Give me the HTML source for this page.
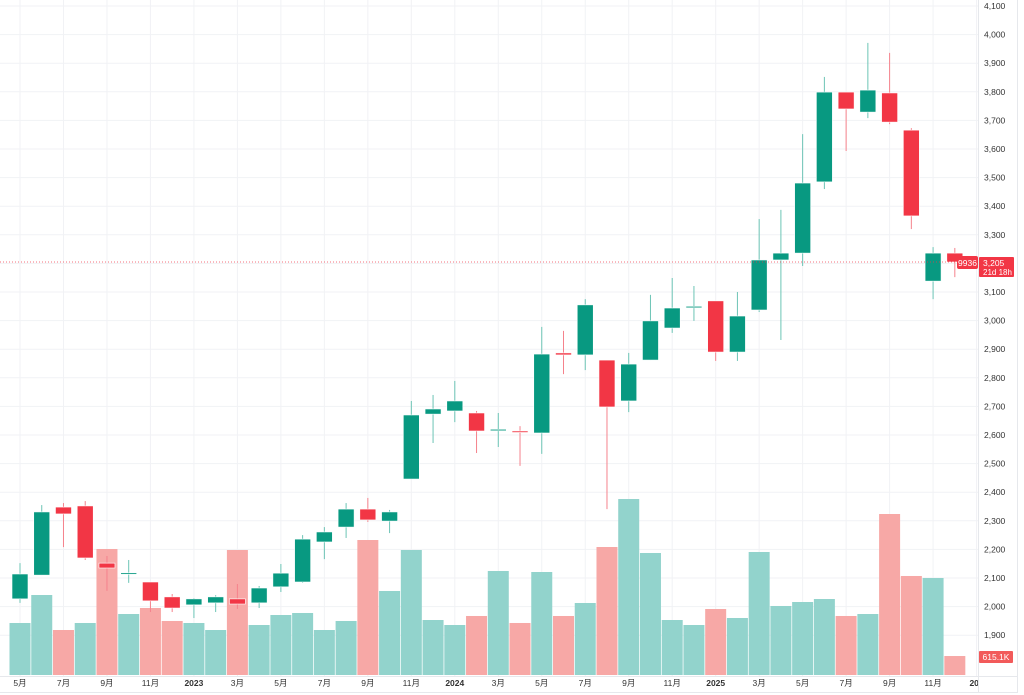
<!DOCTYPE html>
<html><head><meta charset="utf-8"><style>
html,body{margin:0;padding:0;background:#fff;}
svg{display:block;font-family:"Liberation Sans","Noto Sans CJK SC",sans-serif;}
</style></head><body>
<svg id="chart" width="1024" height="695" viewBox="0 0 1024 695" xmlns="http://www.w3.org/2000/svg"></svg>
<script>
const opens  = [2027,2110,2348,2352,2152,2115,2086,2034,2006,2013,2027,2013,2069,2086,2226,2278,2341,2299,2446,2673,2684,2677,2617,2614,2607,2887,2880,2862,2719,2862,2974,3046,3069,2890,3037,3212,3236,3485,3799,3729,3796,3666,3138,3236];
const highs  = [2152,2355,2362,2369,2177,2163,2086,2044,2030,2040,2079,2072,2149,2250,2278,2362,2380,2338,2719,2740,2789,2684,2677,2631,2978,2964,3075,2862,2887,3090,3149,3121,3069,3100,3355,3387,3652,3852,3799,3971,3936,3673,3257,3254];
const lows   = [2013,2110,2208,2163,2055,2083,1981,1981,1960,1981,1992,1995,2051,2083,2166,2240,2296,2257,2446,2572,2645,2537,2558,2492,2534,2813,2827,2341,2680,2862,2957,2999,2859,2859,3030,2932,3191,3460,3593,3708,3687,3320,3075,3152];
const closes = [2114,2331,2324,2170,2135,2118,2020,1995,2027,2034,2009,2065,2117,2236,2261,2341,2303,2331,2670,2691,2719,2614,2620,2610,2883,2880,3055,2698,2848,2999,3044,3050,2890,3016,3212,3236,3481,3799,3740,3806,3694,3366,3236,3205];
const volumes= [1685,2592,1458,1685,4082,1976,2171,1750,1685,1458,4050,1620,1944,2009,1458,1750,4374,2722,4050,1782,1620,1912,3370,1685,3337,1912,2333,4147,5702,3953,1782,1620,2138,1847,3985,2236,2365,2462,1912,1976,5216,3208,3143,615];
const volUp  = [1,1,0,1,0,1,0,0,1,1,0,1,1,1,1,1,0,1,1,1,1,0,1,0,1,0,1,0,1,1,1,1,0,1,1,1,1,1,0,1,0,0,1,0];
const xLabels = ["5月","7月","9月","11月","2023","3月","5月","7月","9月","11月","2024","3月","5月","7月","9月","11月","2025","3月","5月","7月","9月","11月","202"];
const yTicks = [4100,4000,3900,3800,3700,3600,3500,3400,3300,3200,3100,3000,2900,2800,2700,2600,2500,2400,2300,2200,2100,2000,1900];
const lastPrice = 3205;

const svg = document.getElementById('chart');
const NS = 'http://www.w3.org/2000/svg';
function mk(tag, attrs, parent){const e=document.createElementNS(NS,tag);for(const k in attrs)e.setAttribute(k,attrs[k]);(parent||svg).appendChild(e);return e;}
const xOf = i => 20 + i*21.74;
const yOf = v => 6 + (4100 - v)*0.286;
const volBase = 675, volScale = 1/32.4;
const yVol = v => volBase - v*volScale;
const PLOT_R = 978;

const clip = mk('clipPath',{id:'pc'}); mk('rect',{x:0,y:0,width:PLOT_R,height:676},clip);
const clip2 = mk('clipPath',{id:'ac'}); mk('rect',{x:0,y:676,width:PLOT_R,height:19},clip2);

const grid = mk('g',{});
 
yTicks.forEach(t=>{mk('line',{x1:0,x2:PLOT_R,y1:yOf(t),y2:yOf(t),stroke:'#f1f2f5','stroke-width':1},grid);});
xLabels.forEach((l,k)=>{const x=xOf(k*2);mk('line',{x1:x,x2:x,y1:0,y2:676,stroke:'#f1f2f5','stroke-width':1},grid);});

const plot = mk('g',{'clip-path':'url(#pc)'});
volumes.forEach((v,i)=>{
  const r = mk('rect',{x:xOf(i)-10.5,y:yVol(v),width:21,height:v*volScale,fill:volUp[i]?'#92d3cc':'#f7a8a6'},plot);
  
  
});
opens.forEach((o,i)=>{
  const c=closes[i], up=c>=o, col=up?'#089981':'#f23645';
  const g=mk('g',{},plot);
  
  
  const x=xOf(i);
  mk('line',{x1:x,x2:x,y1:yOf(highs[i]),y2:yOf(lows[i]),stroke:up?'#6cc4b5':'#f5828c','stroke-width':1},g);
  const top=yOf(Math.max(o,c)), h=Math.max(1.5,Math.abs(yOf(o)-yOf(c)));
  mk('rect',{x:x-8,y:top,width:16,height:h,fill:col,stroke:'#fff','stroke-width':0.6},g);
});
const pl=mk('line',{x1:0,x2:PLOT_R,y1:yOf(lastPrice),y2:yOf(lastPrice),stroke:'#f23645','stroke-width':1,'stroke-dasharray':'1 2',opacity:0.7});
 

mk('line',{x1:PLOT_R+0.5,x2:PLOT_R+0.5,y1:0,y2:692,stroke:'#e6e8ec'});
mk('line',{x1:1017.5,x2:1017.5,y1:0,y2:692,stroke:'#e6e8ec'});
mk('line',{x1:0,x2:1018,y1:676.5,y2:676.5,stroke:'#e6e8ec'});
mk('line',{x1:0,x2:1018,y1:692.5,y2:692.5,stroke:'#e6e8ec'});

const ya=mk('g',{});
 
yTicks.forEach(t=>{const tx=mk('text',{x:984,y:yOf(t)+3,'font-size':8.5,fill:'#333'},ya);tx.textContent=t.toLocaleString('en-US');});
const xa=mk('g',{'clip-path':'url(#ac)'});
 
xLabels.forEach((l,k)=>{const bold=/^20/.test(l);const tx=mk('text',{x:xOf(k*2),y:686,'font-size':8.5,fill:'#333','text-anchor':'middle','font-weight':bold?'bold':'normal'},xa);tx.textContent=l;});

const cd=mk('g',{});
 
mk('rect',{x:957,y:256,width:21,height:13,rx:2,fill:'#f23645'},cd);
const t1=mk('text',{x:967.5,y:266,'font-size':8.5,fill:'#fff','text-anchor':'middle'},cd);t1.textContent='9936';
const pl2=mk('g',{});
 
mk('rect',{x:979,y:257,width:35,height:20,rx:1,fill:'#f23645'},pl2);
const t2=mk('text',{x:983,y:266,'font-size':8.5,fill:'#fff'},pl2);t2.textContent='3,205';
const t3=mk('text',{x:983,y:275,'font-size':8,fill:'#fff'},pl2);t3.textContent='21d 18h';
const vl=mk('g',{});
 
mk('rect',{x:979,y:651,width:34,height:12,rx:1,fill:'#f25a5a'},vl);
const t4=mk('text',{x:996,y:660,'font-size':8.5,fill:'#fff','text-anchor':'middle'},vl);t4.textContent='615.1K';
</script>
</body></html>
